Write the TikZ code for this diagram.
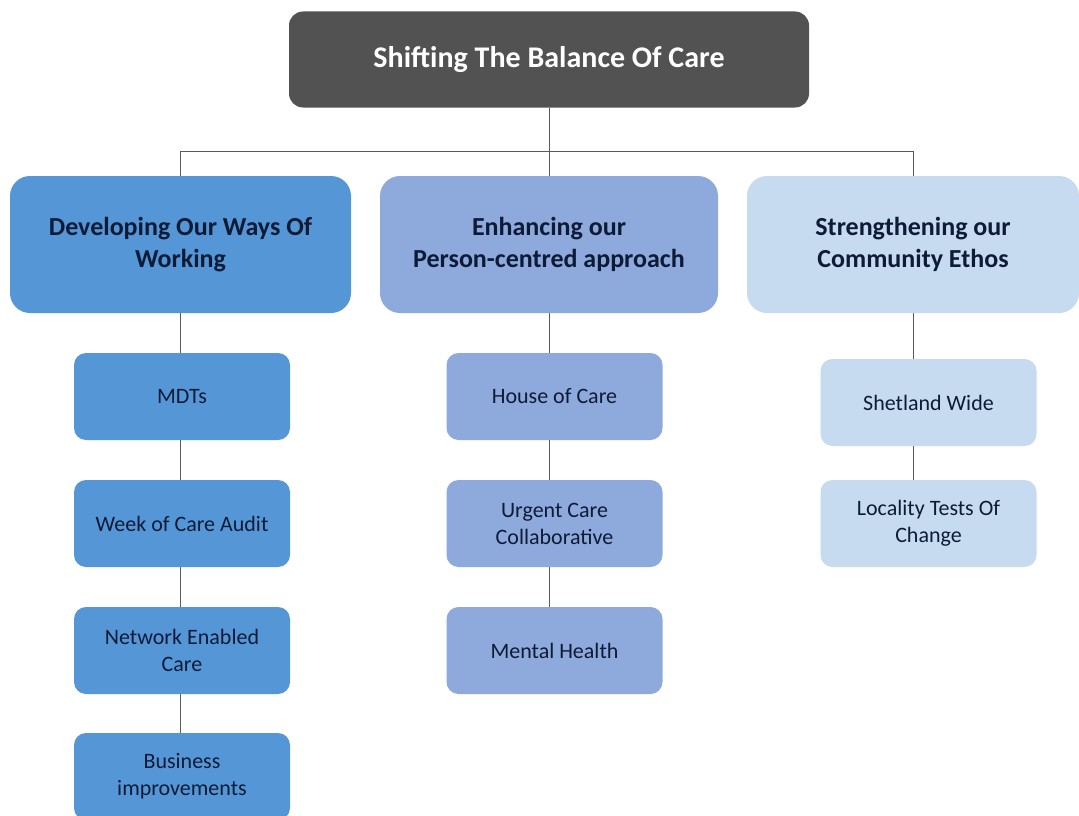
\documentclass[tikz,border=0pt]{standalone}
\usepackage{fontspec}
\setmainfont{Carlito}
\usetikzlibrary{backgrounds}
\definecolor{topfill}{HTML}{525252}
\definecolor{fillA}{HTML}{5596D6}
\definecolor{fillB}{HTML}{8EA9DB}
\definecolor{fillC}{HTML}{C6DBF0}
\definecolor{inkdark}{HTML}{0E1B36}
\definecolor{linkgray}{HTML}{5A5A5A}
\begin{document}
\begin{tikzpicture}[x=1pt,y=-1pt,
  headbox/.style={fill=topfill, rounded corners=14pt, minimum width=520pt, minimum height=96pt,
    text=white, font=\fontsize{30}{36}\selectfont\bfseries},
  groupbox/.style={rounded corners=20pt, minimum height=137pt, text=inkdark, align=center,
    font=\fontsize{26}{32}\selectfont\bfseries},
  itembox/.style={rounded corners=12pt, minimum width=216pt, minimum height=87pt, text=inkdark,
    align=center, font=\fontsize{22}{27}\selectfont},
  link/.style={draw=linkgray, line width=0.9pt}]
\useasboundingbox (0,0) rectangle (1079,816);
\clip (0,0) rectangle (1079,816);

% root
\node[headbox] (top) at (549,59.5) {Shifting The Balance Of Care};

% three strands
\node[groupbox, fill=fillA, minimum width=341pt] (A) at (180.5,244.5) {Developing Our Ways Of\\Working};
\node[groupbox, fill=fillB, minimum width=338pt] (B) at (549,244.5) {Enhancing our\\Person-centred approach};
\node[groupbox, fill=fillC, minimum width=332pt] (C) at (913,244.5) {Strengthening our\\Community Ethos};

% items under each strand
\node[itembox, fill=fillA] (a1) at (182,396.5) {MDTs};
\node[itembox, fill=fillA] (a2) at (182,523.5) {Week of Care Audit};
\node[itembox, fill=fillA] (a3) at (182,650.5) {Network Enabled\\Care};
\node[itembox, fill=fillA] (a4) at (182,776.5) {Business\\improvements};

\node[itembox, fill=fillB] (b1) at (554.5,396.5) {House of Care};
\node[itembox, fill=fillB] (b2) at (554.5,523.5) {Urgent Care\\Collaborative};
\node[itembox, fill=fillB] (b3) at (554.5,650.5) {Mental Health};

\node[itembox, fill=fillC] (c1) at (928.5,402.5) {Shetland Wide};
\node[itembox, fill=fillC] (c2) at (928.5,523.5) {Locality Tests Of\\Change};

\begin{scope}[on background layer]
  \fill[white] (0,0) rectangle (1079,816);
  % root to strands
  \draw[link] (top.south) -- (B.north);
  \draw[link] (A.north) -- ++(0,-24) -| (C.north);
  % strands down through their items
  \draw[link] (A.south) -- (A.south |- a4.north);
  \draw[link] (B.south) -- (B.south |- b3.north);
  \draw[link] (C.south) -- (C.south |- c2.north);
\end{scope}
\end{tikzpicture}
\end{document}
